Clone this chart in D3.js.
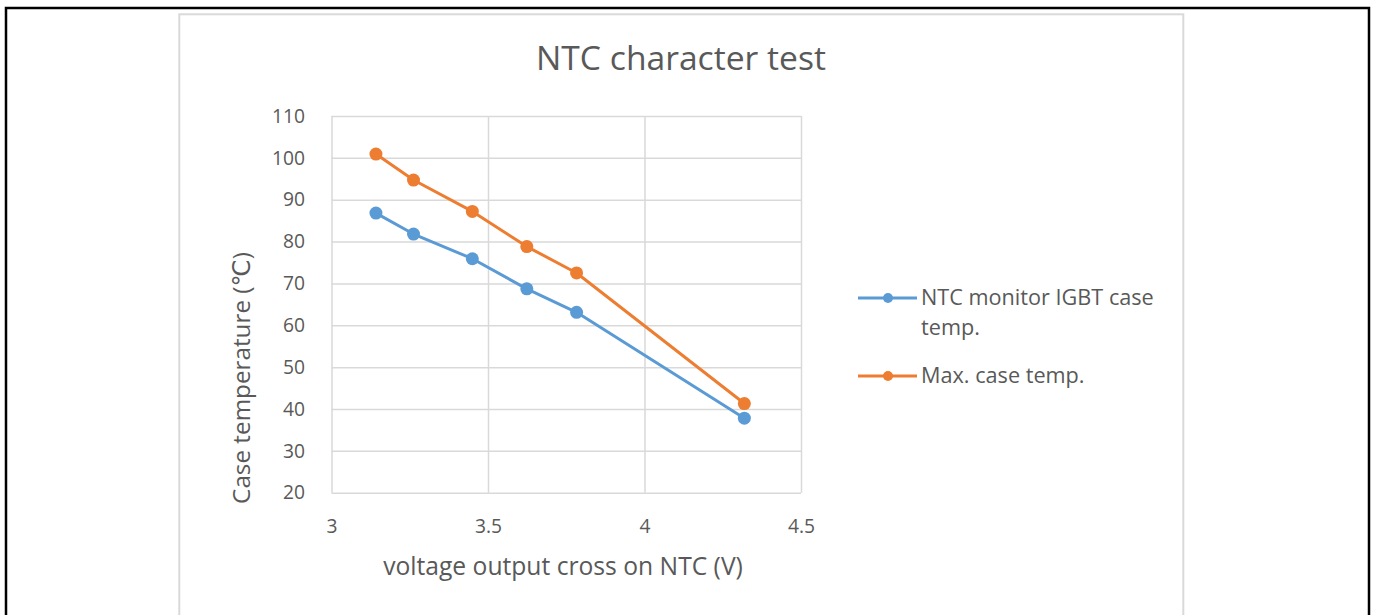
<!DOCTYPE html>
<html><head><meta charset="utf-8">
<script src="https://cdn.jsdelivr.net/npm/d3@7"></script>
<style>body{margin:0;background:#fff;overflow:hidden}</style>
</head><body><svg id="c" width="1375" height="615"></svg>
<script>
// ---- data ----
const xValues = [3.142, 3.262, 3.45, 3.624, 3.783, 4.319];
const ntcMonitor = [86.8, 81.8, 75.9, 68.7, 63.1, 37.8];
const maxCase = [100.9, 94.7, 87.2, 78.8, 72.5, 41.3];
const seriesNames = ["NTC monitor IGBT case temp.", "Max. case temp."];
const seriesColors = ["#5B9BD5", "#ED7D31"];
const xTicks = [3, 3.5, 4, 4.5];
const yTicks = [20, 30, 40, 50, 60, 70, 80, 90, 100, 110];
const titleText = "NTC character test";
const xTitle = "voltage output cross on NTC (V)";
const yTitle = "Case temperature  (\u2103)";

const svg = d3.select("#c");
const font = "'Open Sans', 'DejaVu Sans', sans-serif";
const txt = "#595959";
const grid = "#d9d9d9";

function fit(sel, w) {
  const l = sel.node().getComputedTextLength();
  const fs = parseFloat(sel.attr("font-size"));
  sel.attr("font-size", fs * w / l);
  return fs * w / l;
}

// outer black frame (open at bottom)
svg.append("path").attr("d", "M6,620 V8 H1369 V620")
  .attr("fill", "none").attr("stroke", "#000").attr("stroke-width", 2.5);
// chart area frame
svg.append("rect").attr("x", 179.3).attr("y", 14.3).attr("width", 1004).attr("height", 620)
  .attr("fill", "#fff").attr("stroke", grid).attr("stroke-width", 2);

const x = d3.scaleLinear().domain([3, 4.5]).range([331.5, 801]);
const y = d3.scaleLinear().domain([20, 110]).range([492.7, 116]);

// gridlines
const gy = svg.append("g").attr("transform", "translate(331.5,0)")
  .call(d3.axisLeft(y).tickValues(yTicks).tickSize(-(801 - 331.5)).tickFormat(""));
gy.select(".domain").remove();
gy.selectAll("line").attr("stroke", grid).attr("stroke-width", 1.5);
const gx = svg.append("g").attr("transform", "translate(0,492.7)")
  .call(d3.axisBottom(x).tickValues(xTicks).tickSize(-(492.7 - 116)).tickFormat(""));
gx.select(".domain").remove();
gx.selectAll("line").attr("stroke", grid).attr("stroke-width", 1.5);

// tick font size from measured label width
const probe = svg.append("text").attr("font-family", font).attr("font-size", 20).text("110");
const tickFs = fit(probe, 33);
probe.remove();

// tick labels
const ay = svg.append("g").attr("transform", "translate(318,0)")
  .call(d3.axisLeft(y).tickValues(yTicks).tickSize(0).tickPadding(13));
ay.select(".domain").remove();
ay.selectAll("text").attr("fill", txt).attr("font-family", font).attr("font-size", tickFs);
const ax = svg.append("g").attr("transform", "translate(0,500)")
  .call(d3.axisBottom(x).tickValues(xTicks).tickSize(0).tickPadding(0).tickFormat(d3.format("")));
ax.select(".domain").remove();
ax.selectAll("text").attr("fill", txt).attr("font-family", font).attr("font-size", tickFs)
  .attr("dy", null).attr("y", 33);

// lines and markers
const line = d3.line().x((d, i) => x(xValues[i])).y(d => y(d));
[ntcMonitor, maxCase].forEach((vals, k) => {
  svg.append("path").attr("d", line(vals)).attr("fill", "none")
    .attr("stroke", seriesColors[k]).attr("stroke-width", 3).attr("stroke-linejoin", "round");
  svg.selectAll(null).data(vals).enter().append("circle")
    .attr("cx", (d, i) => x(xValues[i])).attr("cy", d => y(d)).attr("r", 6.5)
    .attr("fill", seriesColors[k]);
});

// title
const t = svg.append("text").attr("x", 681).attr("y", 70).attr("text-anchor", "middle")
  .attr("font-family", font).attr("font-size", 30).attr("fill", txt).text(titleText);
fit(t, 290);
// axis titles
const xt = svg.append("text").attr("x", 563).attr("y", 575).attr("text-anchor", "middle")
  .attr("font-family", font).attr("font-size", 20).attr("fill", txt).text(xTitle);
fit(xt, 360);
const yt = svg.append("text").attr("transform", "translate(250,378) rotate(-90)")
  .attr("text-anchor", "middle").attr("font-family", font).attr("font-size", 20)
  .attr("fill", txt).text(yTitle);
fit(yt, 252);

// legend
const lp = svg.append("text").attr("font-family", font).attr("font-size", 20).text("NTC monitor IGBT case");
const legFs = fit(lp, 233);
lp.remove();
const leg = [
  { lines: ["NTC monitor IGBT case", "temp."], y: 298, color: seriesColors[0] },
  { lines: ["Max. case temp."], y: 376, color: seriesColors[1] }
];
leg.forEach((L, k) => {
  svg.append("line").attr("x1", 858).attr("x2", 917).attr("y1", L.y).attr("y2", L.y)
    .attr("stroke", L.color).attr("stroke-width", 3);
  svg.append("circle").attr("cx", 888).attr("cy", L.y).attr("r", 5).attr("fill", L.color);
  const tx = svg.append("text").attr("x", 921).attr("y", L.y + 7)
    .attr("font-family", font).attr("font-size", legFs).attr("fill", txt);
  L.lines.forEach((s, j) => tx.append("tspan").attr("x", 921).attr("dy", j ? 30 : 0).text(s));
});
</script></body></html>
